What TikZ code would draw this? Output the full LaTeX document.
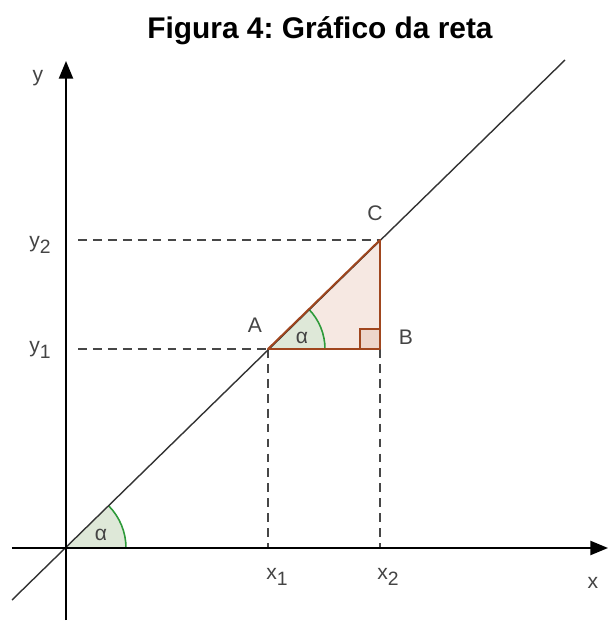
\documentclass[tikz,border=0pt]{standalone}
\usepackage{fontspec}
\setmainfont{Liberation Sans}
\usetikzlibrary{arrows.meta}
\definecolor{lbl}{HTML}{444444}
\definecolor{triedge}{HTML}{A0461E}
\definecolor{trifill}{HTML}{F6E8E2}
\definecolor{sqfill}{HTML}{EDD5CB}
\definecolor{angfill}{HTML}{DEE8D8}
\definecolor{angedge}{HTML}{2E9A3A}
\newcommand{\lsub}[1]{\raisebox{-0.55ex}{\fontsize{11pt}{12pt}\selectfont #1}}
\frenchspacing
\begin{document}
\begin{tikzpicture}[x=0.02cm,y=0.02cm,
  lab/.style={text=lbl,font=\fontsize{12pt}{14pt}\selectfont,inner sep=0pt},
  axis/.style={line width=1.1pt,black,-{Triangle[length=10pt,width=8pt]}},
  guide/.style={dashed,dash pattern=on 5pt off 3.5pt,line width=0.9pt,black!72},
  mainline/.style={line width=0.8pt,black!80},
  tri/.style={line width=1.1pt,triedge}]
\useasboundingbox (-66,-78) rectangle (542,548);
% title
\node[font=\bfseries\fontsize{17pt}{20pt}\selectfont] (title) at (254,517) {Figura 4: Gráfico da reta};
% points
\coordinate (O) at (0,0);
\coordinate (A) at (202,199);
\coordinate (B) at (314,199);
\coordinate (C) at (314,308);
\coordinate (Lb) at (-54,-52);
\coordinate (Lt) at (499,488);
\coordinate (Xs) at (-54,0);
\coordinate (Xe) at (542,0);
\coordinate (Ys) at (0,-72);
\coordinate (Ye) at (0,487);
\coordinate (Y2) at (12,308);
\coordinate (Y1) at (12,199);
\coordinate (X1) at (202,0);
\coordinate (X2) at (314,0);
% triangle fill
\fill[trifill] (A) -- (B) -- (C) -- cycle;
% angle at A
\fill[angfill] (A) -- ++(57,0) arc[start angle=0,end angle=44.4,radius=57] -- cycle;
\draw[angedge,line width=0.9pt] (A) ++(57,0) arc[start angle=0,end angle=44.4,radius=57];
% angle at O
\fill[angfill] (O) -- ++(60,0) arc[start angle=0,end angle=44.4,radius=60] -- cycle;
\draw[angedge,line width=0.9pt] (O) ++(60,0) arc[start angle=0,end angle=44.4,radius=60];
% guides
\draw[guide] (Y2) -- (C);
\draw[guide] (Y1) -- (A);
\draw[guide] (A) -- (X1);
\draw[guide] (B) -- (X2);
% right-angle square
\fill[sqfill] (B) rectangle ++(-20,20);
\draw[tri] (B) ++(-20,0) -- ++(0,20) -- ++(20,0);
% main line
\draw[mainline] (Lb) -- (Lt);
% triangle edges
\draw[tri,line join=round] (A) -- (B) -- (C) -- cycle;
% axes
\draw[axis] (Xs) -- (Xe);
\draw[axis] (Ys) -- (Ye);
% alpha labels
\node[lab] (al1) at (35,13) {α};
\node[lab] (al2) at (236,210) {α};
% labels
\node[lab] (ly) at (-28,470) {y};
\node[lab] (lx) at (527,-35) {x};
\node[lab] (ly2) at (-26,303) {y\lsub{2}};
\node[lab] (ly1) at (-26,198) {y\lsub{1}};
\node[lab] (lx1) at (211,-29) {x\lsub{1}};
\node[lab] (lx2) at (322,-29) {x\lsub{2}};
\node[lab] (lA) at (189,223) {A};
\node[lab] (lB) at (340,211) {B};
\node[lab] (lC) at (309,335) {C};
\end{tikzpicture}
\end{document}
